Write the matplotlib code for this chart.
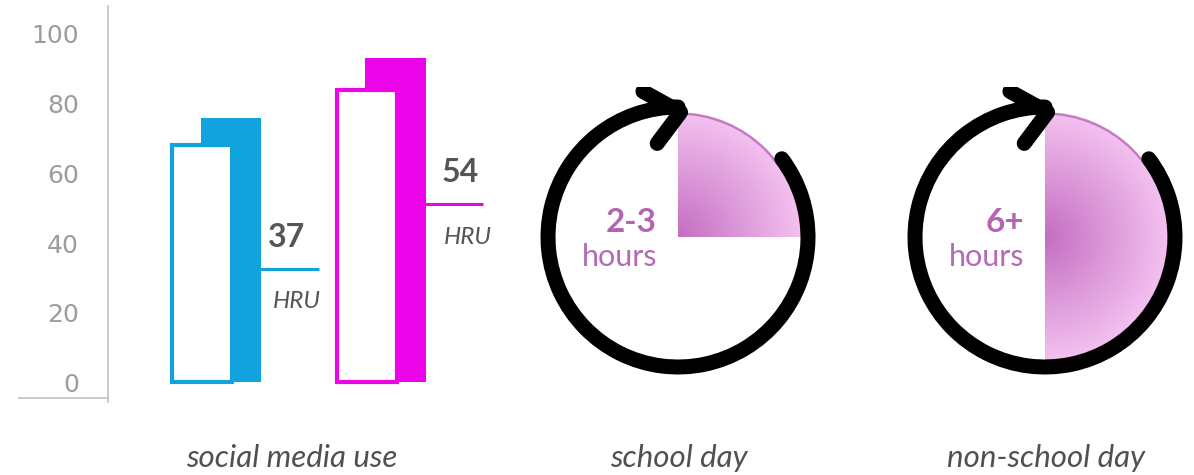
import numpy as np
import matplotlib
matplotlib.use("Agg")
import matplotlib.pyplot as plt
from matplotlib.patches import Wedge, Arc
from matplotlib.lines import Line2D
from matplotlib.colors import LinearSegmentedColormap

# data
groups = ["young people", "HRU"]
outline_vals = [68, 84]        # front, white bars
filled_vals = [76, 93]         # back, solid bars
hru_levels = [32.6, 51.2]      # where the HRU marker lines sit
hru_labels = ["37", "54"]
bar_colors = ["#10a3de", "#eb04e8"]
yticks = [0, 20, 40, 60, 80, 100]

clock_fracs = [0.25, 0.5]      # share of the clock face filled
clock_big = ["2-3", "6+"]
bottom_labels = ["social media use", "school day", "non-school day"]

W, H = 1194, 475
fig = plt.figure(figsize=(W / 100, H / 100), dpi=100)
fig.patch.set_facecolor("white")

def px(x0, y0, w, h):
    # pixel box (top-left origin) -> figure fraction rect
    return [x0 / W, 1 - (y0 + h) / H, w / W, h / H]

# ---------------- bar chart ----------------
ax = fig.add_axes(px(108, 6, 412, 396))
ax.set_xlim(-0.66, 1.845)
ax.set_ylim(-5.6, 108)
for s in ["top", "right", "bottom"]:
    ax.spines[s].set_visible(False)
ax.spines["left"].set_color("#c6c6c6")
ax.spines["left"].set_linewidth(1.3)
ax.set_xticks([])
ax.set_yticks(yticks)
ax.tick_params(axis="y", length=0, pad=21, labelsize=18, labelcolor="#9c9c9c")

xs = np.arange(len(groups))
w = 0.365
off = 0.088
ax.bar(xs + off, filled_vals, width=w, color=bar_colors, zorder=2)
for i in range(len(groups)):
    left = xs[i] - off + w / 2
    ax.hlines(hru_levels[i], left, xs[i] + 0.62, color=bar_colors[i], lw=2.2, zorder=3)
    ax.text(xs[i] + 0.315 + 0.05 * i, hru_levels[i] + 9, hru_labels[i], family="Lato",
            weight="bold", fontsize=23, color="#555555", va="center", ha="left")
    ax.text(xs[i] + 0.34 + 0.04 * i, hru_levels[i] - 9.5, "HRU", family="Lato",
            style="italic", fontsize=17.5, color="#555555", va="center", ha="left")
ax.bar(xs - off, outline_vals, width=w, facecolor="white", edgecolor=bar_colors,
       linewidth=3.0, zorder=4)

# little baseline stub left of the axis
fig.add_artist(Line2D([19 / W, 108 / W], [1 - 398 / H, 1 - 398 / H],
                      color="#c6c6c6", lw=1.3))

# ---------------- clocks ----------------
cmap = LinearSegmentedColormap.from_list("pk", ["#c46dc1", "#dc98d9", "#f3c1f0"])
R = 0.95
g = np.linspace(-R, R, 400)
gx, gy = np.meshgrid(g, g)
dist = np.sqrt(gx ** 2 + gy ** 2) / R

centers = [678, 1045]
for cx, frac, big in zip(centers, clock_fracs, clock_big):
    cy = 237
    box = 300
    cax = fig.add_axes(px(cx - box / 2, cy - box / 2, box, box))
    lim = (box / 2) / 130
    cax.set_xlim(-lim, lim)
    cax.set_ylim(-lim, lim)
    cax.set_aspect("equal")
    cax.axis("off")

    t2 = 90
    t1 = 90 - 360 * frac
    wedge = Wedge((0, 0), R, t1, t2, facecolor="none", edgecolor="none")
    cax.add_patch(wedge)
    im = cax.imshow(dist, extent=[-R, R, -R, R], origin="lower", cmap=cmap,
                    vmin=0, vmax=1, interpolation="bilinear", zorder=1)
    im.set_clip_path(wedge)
    cax.add_patch(Arc((0, 0), 2 * R, 2 * R, theta1=t1, theta2=t2,
                      color="#c47cc4", lw=1.8, zorder=2))

    ring = Arc((0, 0), 2, 2, theta1=90, theta2=397, color="black", lw=10.8, zorder=3)
    ring.set_capstyle("round")
    cax.add_patch(ring)
    cax.plot([-0.27, 0.02, -0.16], [1.12, 0.96, 0.72], color="black", lw=10.8,
             solid_capstyle="round", solid_joinstyle="round", zorder=4)

    cax.text(-0.16, 0.11, big, family="Lato", weight="bold", fontsize=24,
             color="#b464b3", ha="right", va="center", zorder=5)
    cax.text(-0.16, -0.15, "hours", family="Lato", fontsize=22,
             color="#b46ab6", ha="right", va="center", zorder=5)

# ---------------- bottom labels ----------------
for lab, x in zip(bottom_labels, [292, 679, 1046]):
    fig.text(x / W, 1 - 458 / H, lab, family="Lato", style="italic", fontsize=22.5,
             color="#505050", ha="center", va="center")

fig.savefig("out.png", dpi=100, facecolor="white")
